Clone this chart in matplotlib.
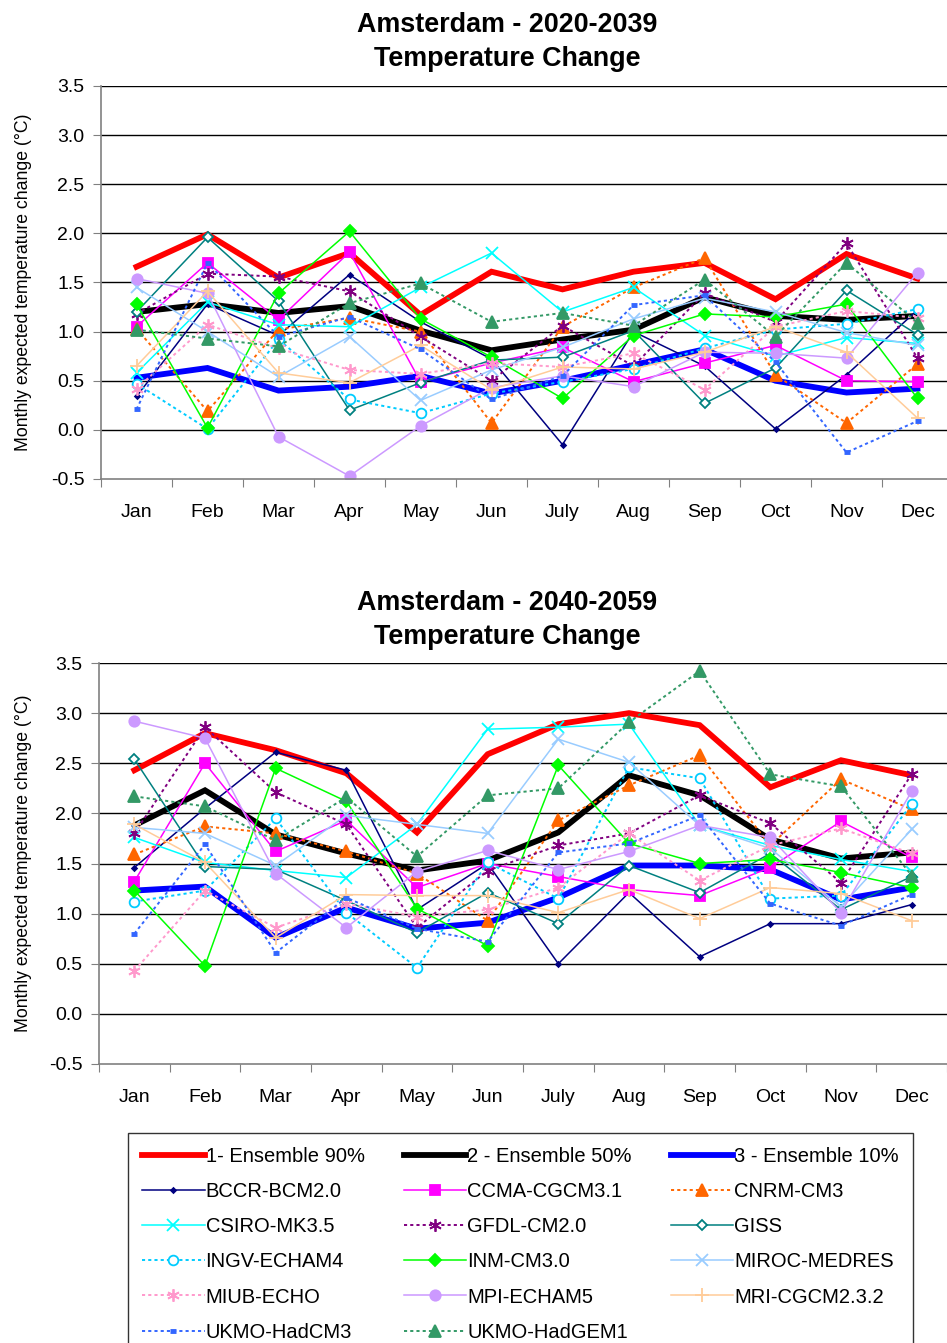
import numpy as np
import matplotlib
matplotlib.use('Agg')
import matplotlib.pyplot as plt
from matplotlib.lines import Line2D

plt.rcParams['font.family'] = ['Liberation Sans', 'DejaVu Sans']

months = ['Jan', 'Feb', 'Mar', 'Apr', 'May', 'Jun', 'July', 'Aug', 'Sep', 'Oct', 'Nov', 'Dec']
yticks = [-0.5, 0.0, 0.5, 1.0, 1.5, 2.0, 2.5, 3.0, 3.5]

# 2020-2039 monthly temperature change (degC)
ens90_2020 = [1.66, 1.99, 1.55, 1.80, 1.17, 1.61, 1.43, 1.61, 1.70, 1.33, 1.79, 1.54]
ens50_2020 = [1.20, 1.28, 1.19, 1.26, 1.01, 0.81, 0.92, 1.02, 1.35, 1.16, 1.12, 1.16]
ens10_2020 = [0.53, 0.63, 0.40, 0.44, 0.55, 0.37, 0.50, 0.66, 0.82, 0.50, 0.38, 0.42]
bccr_2020 = [0.34, 1.28, 0.96, 1.58, 1.10, 0.72, -0.15, 1.00, 0.65, 0.01, 0.56, 1.22]
ccma_2020 = [1.05, 1.70, 1.12, 1.81, 0.49, 0.68, 0.84, 0.49, 0.68, 0.86, 0.50, 0.49]
cnrm_2020 = [1.03, 0.19, 1.02, 1.14, 1.00, 0.07, 1.05, 1.45, 1.75, 0.56, 0.07, 0.67]
csiro_2020 = [0.58, 1.30, 1.07, 1.05, 1.45, 1.80, 1.20, 1.45, 0.96, 0.75, 0.94, 0.88]
gfdl_2020 = [1.18, 1.59, 1.56, 1.41, 0.95, 0.50, 1.06, 0.65, 1.39, 1.10, 1.90, 0.73]
giss_2020 = [1.20, 1.96, 1.31, 0.20, 0.48, 0.71, 0.74, 1.01, 0.27, 0.63, 1.42, 0.97]
ingv_2020 = [0.47, 0.01, 0.92, 0.31, 0.17, 0.37, 0.49, 0.62, 0.83, 1.02, 1.08, 1.23]
inm_2020 = [1.28, 0.02, 1.39, 2.02, 1.13, 0.74, 0.32, 0.96, 1.18, 1.15, 1.28, 0.32]
miroc_2020 = [1.45, 1.00, 0.54, 0.95, 0.30, 0.61, 0.84, 1.13, 1.34, 1.20, 0.99, 0.86]
miub_2020 = [0.42, 1.07, 0.83, 0.61, 0.57, 0.68, 0.64, 0.78, 0.41, 1.05, 1.21, 1.14]
mpi_2020 = [1.54, 1.39, -0.07, -0.47, 0.04, 0.43, 0.55, 0.44, 0.79, 0.78, 0.73, 1.60]
mri_2020 = [0.65, 1.41, 0.58, 0.48, 0.86, 0.41, 0.64, 0.62, 0.79, 1.05, 0.79, 0.12]
hadcm3_2020 = [0.21, 1.70, 0.95, 1.15, 0.82, 0.31, 0.55, 1.27, 1.37, 0.69, -0.23, 0.09]
hadgem_2020 = [1.02, 0.93, 0.85, 1.29, 1.49, 1.10, 1.19, 1.06, 1.53, 0.95, 1.70, 1.09]

# 2040-2059 monthly temperature change (degC)
ens90_2040 = [2.43, 2.80, 2.63, 2.40, 1.81, 2.59, 2.89, 3.00, 2.88, 2.26, 2.53, 2.38]
ens50_2040 = [1.88, 2.23, 1.79, 1.60, 1.43, 1.53, 1.81, 2.38, 2.18, 1.74, 1.55, 1.61]
ens10_2040 = [1.23, 1.27, 0.76, 1.06, 0.85, 0.91, 1.16, 1.48, 1.48, 1.44, 1.14, 1.26]
bccr_2040 = [1.46, 2.05, 2.61, 2.43, 1.04, 1.50, 0.50, 1.21, 0.57, 0.90, 0.90, 1.09]
ccma_2040 = [1.32, 2.50, 1.62, 1.93, 1.26, 1.50, 1.37, 1.24, 1.18, 1.46, 1.92, 1.56]
cnrm_2040 = [1.59, 1.87, 1.80, 1.62, 1.40, 0.93, 1.93, 2.28, 2.58, 1.68, 2.34, 2.04]
csiro_2040 = [1.76, 1.51, 1.43, 1.36, 1.89, 2.84, 2.86, 2.89, 1.88, 1.68, 1.54, 1.42]
gfdl_2040 = [1.80, 2.86, 2.21, 1.89, 0.86, 1.43, 1.68, 1.80, 2.18, 1.90, 1.31, 2.39]
giss_2040 = [2.54, 1.47, 1.44, 1.13, 0.81, 1.21, 0.90, 1.48, 1.21, 1.60, 1.04, 1.37]
ingv_2040 = [1.12, 1.23, 1.95, 1.01, 0.46, 1.51, 1.15, 2.46, 2.35, 1.15, 1.18, 2.09]
inm_2040 = [1.23, 0.48, 2.45, 2.12, 1.05, 0.68, 2.48, 1.70, 1.50, 1.54, 1.41, 1.26]
miroc_2040 = [1.86, 1.80, 1.48, 1.98, 1.89, 1.80, 2.74, 2.51, 1.88, 1.65, 1.07, 1.84]
miub_2040 = [0.43, 1.23, 0.86, 1.10, 0.97, 1.04, 1.26, 1.80, 1.33, 1.68, 1.85, 1.60]
mpi_2040 = [2.92, 2.75, 1.40, 0.86, 1.42, 1.63, 1.44, 1.62, 1.88, 1.76, 1.01, 2.22]
mri_2040 = [1.89, 1.51, 0.76, 1.19, 1.18, 1.18, 1.01, 1.24, 0.95, 1.26, 1.20, 0.93]
hadcm3_2040 = [0.80, 1.69, 0.61, 1.16, 0.85, 0.72, 1.61, 1.70, 1.98, 1.10, 0.88, 1.19]
hadgem_2040 = [2.17, 2.07, 1.73, 2.16, 1.57, 2.18, 2.25, 2.91, 3.42, 2.39, 2.27, 1.38]

DOT = (0, (1.6, 1.6))
# name, colour, linestyle, linewidth, marker, markersize, face
styles = [
    ('1- Ensemble 90%', '#FF0000', '-', 4.2, None, 0, None),
    ('2 - Ensemble 50%', '#000000', '-', 4.2, None, 0, None),
    ('3 - Ensemble 10%', '#0000FF', '-', 4.2, None, 0, None),
    ('BCCR-BCM2.0', '#000080', '-', 1.1, 'D', 2.5, None),
    ('CCMA-CGCM3.1', '#FF00FF', '-', 1.1, 's', 7, None),
    ('CNRM-CM3', '#FF6600', DOT, 1.4, '^', 8, None),
    ('CSIRO-MK3.5', '#00FFFF', '-', 1.1, 'x', 8, None),
    ('GFDL-CM2.0', '#800080', DOT, 1.4, (6, 2, 0), 9, None),
    ('GISS', '#008080', '-', 1.1, 'D', 5.5, 'white'),
    ('INGV-ECHAM4', '#00CCFF', DOT, 1.4, 'o', 7, 'white'),
    ('INM-CM3.0', '#00FF00', '-', 1.1, 'D', 6, None),
    ('MIROC-MEDRES', '#99CCFF', '-', 1.1, 'x', 8, None),
    ('MIUB-ECHO', '#FF99CC', DOT, 1.4, (6, 2, 0), 9, None),
    ('MPI-ECHAM5', '#CC99FF', '-', 1.1, 'o', 7.5, None),
    ('MRI-CGCM2.3.2', '#FFCC99', '-', 1.1, '+', 10, None),
    ('UKMO-HadCM3', '#3366FF', DOT, 1.4, '_', 5, None),
    ('UKMO-HadGEM1', '#339966', DOT, 1.4, '^', 8, None),
]

series_2020 = [ens90_2020, ens50_2020, ens10_2020, bccr_2020, ccma_2020, cnrm_2020,
               csiro_2020, gfdl_2020, giss_2020, ingv_2020, inm_2020, miroc_2020,
               miub_2020, mpi_2020, mri_2020, hadcm3_2020, hadgem_2020]
series_2040 = [ens90_2040, ens50_2040, ens10_2040, bccr_2040, ccma_2040, cnrm_2040,
               csiro_2040, gfdl_2040, giss_2040, ingv_2040, inm_2040, miroc_2040,
               miub_2040, mpi_2040, mri_2040, hadcm3_2040, hadgem_2040]

W, H = 947, 1343
fig = plt.figure(figsize=(W / 100, H / 100), dpi=100)
fig.patch.set_facecolor('white')


def px_axes(left, top, right, bottom):
    return fig.add_axes([left / W, 1 - bottom / H, (right - left) / W, (bottom - top) / H])


def style_kw(st):
    name, col, ls, lw, mk, ms, face = st
    kw = dict(color=col, linestyle=ls, linewidth=lw, label=name)
    if mk is not None:
        kw.update(marker=mk, markersize=ms, markeredgecolor=col,
                  markerfacecolor=face if face else col, markeredgewidth=1.3)
        if mk == '_':
            kw['markeredgewidth'] = 3.5
    return kw


def draw_panel(ax, data, title, title_y):
    x = np.arange(len(months)) + 0.5
    for st, vals in zip(styles, data):
        ax.plot(x, vals, solid_joinstyle='miter', **style_kw(st))
    ax.set_xlim(0, 12)
    ax.set_ylim(-0.5, 3.5)
    ax.set_yticks(yticks)
    ax.set_yticklabels([f'{v:.1f}' for v in yticks], fontsize=14)
    ax.set_xticks(np.arange(13))
    ax.set_xticklabels([])
    ax.set_xticks(x, minor=True)
    ax.set_xticklabels(months, minor=True, fontsize=14)
    ax.tick_params(axis='x', which='major', length=6, color='#808080', direction='out')
    ax.tick_params(axis='x', which='minor', length=0, pad=18)
    ax.tick_params(axis='y', length=6, color='#808080', direction='out', pad=6)
    for v in yticks[1:]:
        ax.axhline(v, color='black', linewidth=1.0, zorder=0.5)
    for sp in ['top', 'right']:
        ax.spines[sp].set_visible(False)
    for sp in ['left', 'bottom']:
        ax.spines[sp].set_color('#808080')
        ax.spines[sp].set_linewidth(1.2)
    ax.set_ylabel('Monthly expected temperature change (\u00b0C)', fontsize=12.7)
    fig.text(507 / W, 1 - title_y / H, title, ha='center', va='center',
             fontsize=19.4, fontweight='bold', linespacing=1.4)


ax1 = px_axes(101, 86, 953, 479)
draw_panel(ax1, series_2020, 'Amsterdam - 2020-2039\nTemperature Change', 41.5)
ax1.yaxis.set_label_coords(-69 / 852, 0.5)

ax2 = px_axes(99, 663, 947, 1064)
draw_panel(ax2, series_2040, 'Amsterdam - 2040-2059\nTemperature Change', 619.5)
ax2.yaxis.set_label_coords(-67 / 848, 0.5)

# legend laid out row by row, three entries per row
handles = [Line2D([], [], **style_kw(st)) for st in styles]
order = list(range(0, 17, 3)) + list(range(1, 17, 3)) + list(range(2, 17, 3))
leg = fig.legend([handles[i] for i in order], [styles[i][0] for i in order],
                 loc='upper left', bbox_to_anchor=(128 / W, 1 - 1133 / H),
                 ncol=3, fontsize=14.5, frameon=True, fancybox=False,
                 edgecolor='black', handlelength=3.1, handletextpad=0.05,
                 columnspacing=1.95, labelspacing=0.8, borderpad=0.7,
                 borderaxespad=0, numpoints=1)
leg.get_frame().set_linewidth(1.0)

fig.savefig('out.png', dpi=100, facecolor='white')
plt.close(fig)
